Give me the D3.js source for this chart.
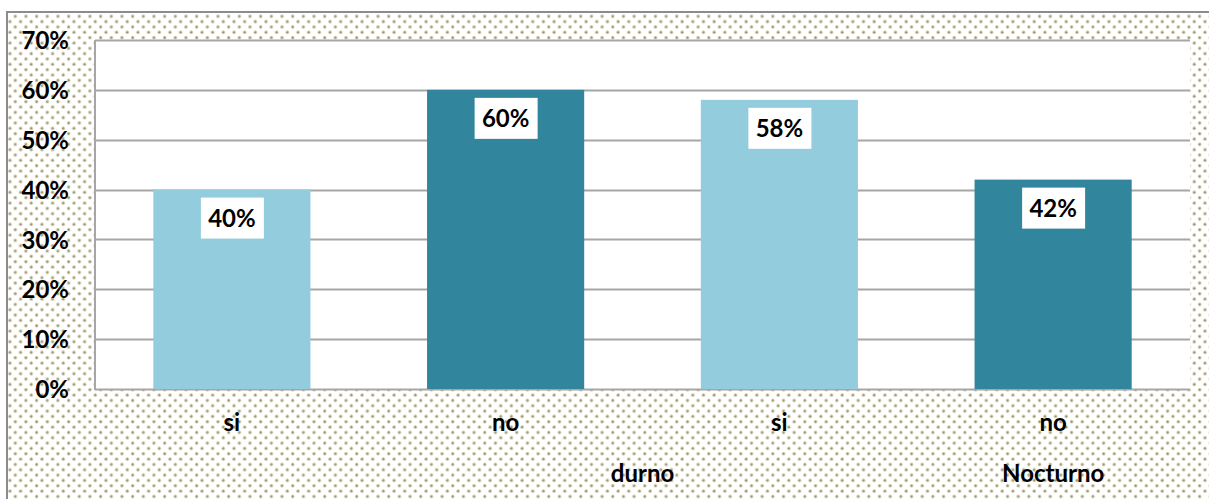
<!DOCTYPE html>
<html>
<head>
<meta charset="utf-8">
<script src="https://cdn.jsdelivr.net/npm/d3@7"></script>
<style>
  html, body { margin: 0; padding: 0; background: #fff; }
  svg { display: block; }
  text { font-family: Lato, "Open Sans", sans-serif; font-weight: 700; fill: #000; }
</style>
</head>
<body>
<svg id="chart" width="1209" height="499"></svg>
<script>
// Bar categories (inner level), their group labels and shares
const categories = ["si", "no", "si ", "no "];
const values = [0.40, 0.60, 0.58, 0.42];
const barColors = ["#93CDDD", "#31859C", "#93CDDD", "#31859C"];
const groupLabels = ["durno", "Nocturno"];
const yTicks = [0, 0.1, 0.2, 0.3, 0.4, 0.5, 0.6, 0.7];

const W = 1209, H = 499;
const plot = { left: 95, right: 1190, top: 40, bottom: 389 };
const FS = "24px";

const svg = d3.select("#chart");

// Dotted fill for the chart area
const defs = svg.append("defs");
const pat = defs.append("pattern")
  .attr("id", "dots").attr("patternUnits", "userSpaceOnUse")
  .attr("x", 2).attr("y", 3)
  .attr("width", 10.67).attr("height", 10.67);
pat.append("rect").attr("width", 10.67).attr("height", 10.67).attr("fill", "#fff");
[[2.6, 2.6], [7.93, 7.93]].forEach(([cx, cy]) => {
  pat.append("circle").attr("cx", cx).attr("cy", cy).attr("r", 1.8).attr("fill", "#d2cdb2");
  pat.append("circle").attr("cx", cx).attr("cy", cy).attr("r", 1.0).attr("fill", "#958d62");
});

svg.append("rect").attr("x", 6).attr("y", 11).attr("width", W - 6).attr("height", H - 11)
  .attr("fill", "url(#dots)");
// chart frame (left and top edges)
svg.append("path").attr("d", `M7,${H} V12 H${W}`)
  .attr("fill", "none").attr("stroke", "#8c8c8c").attr("stroke-width", 2);

const x = d3.scaleBand().domain(categories).range([plot.left, plot.right]).paddingInner(0.426).paddingOuter(0.213);
const xOuter = d3.scaleBand().domain(categories).range([plot.left, plot.right]);
const y = d3.scaleLinear().domain([0, 0.7]).range([plot.bottom, plot.top]);

// plot area
svg.append("rect").attr("x", plot.left).attr("y", plot.top)
  .attr("width", plot.right - plot.left).attr("height", plot.bottom - plot.top)
  .attr("fill", "#fff");

// gridlines
svg.append("g").selectAll("line").data(yTicks).join("line")
  .attr("x1", plot.left).attr("x2", plot.right)
  .attr("y1", d => Math.round(y(d)) + 0.5).attr("y2", d => Math.round(y(d)) + 0.5)
  .attr("stroke", "#a6a6a6").attr("stroke-width", 2);

// y axis line
svg.append("line").attr("x1", plot.left).attr("x2", plot.left)
  .attr("y1", plot.top).attr("y2", plot.bottom + 1)
  .attr("stroke", "#a6a6a6").attr("stroke-width", 2);

// y tick labels
const yAxis = d3.axisLeft(y).tickValues(yTicks).tickFormat(d3.format(".0%")).tickSize(0).tickPadding(26);
const yg = svg.append("g").attr("transform", `translate(${plot.left},0)`).call(yAxis);
yg.select(".domain").remove();
yg.selectAll("text").style("font-size", FS).attr("dy", "0.36em").style("font-family", "Lato, sans-serif").style("font-weight", 700);

// bars
svg.append("g").selectAll("rect").data(values).join("rect")
  .attr("x", (d, i) => x(categories[i]))
  .attr("width", x.bandwidth())
  .attr("y", d => y(d))
  .attr("height", d => y(0) - y(d))
  .attr("fill", (d, i) => barColors[i]);

// value labels on white boxes
const fmt = d3.format(".0%");
const lab = svg.append("g").selectAll("g").data(values).join("g")
  .attr("transform", (d, i) => `translate(${x(categories[i]) + x.bandwidth() / 2},${y(d) + 8})`);
lab.append("rect").attr("x", -31).attr("y", 0).attr("width", 63).attr("height", 41).attr("fill", "#fff");
lab.append("text").attr("text-anchor", "middle").attr("y", 29).style("font-size", FS).text(d => fmt(d));

// category labels
const xAxis = d3.axisBottom(xOuter).tickSize(0).tickPadding(0).tickFormat(d => d.trim());
const xg = svg.append("g").attr("transform", `translate(0,431)`).call(xAxis);
xg.select(".domain").remove();
xg.selectAll("text").attr("dy", 0).attr("y", 0).style("font-size", FS).style("font-family", "Lato, sans-serif").style("font-weight", 700);

// group labels
const groupX = [xOuter(categories[1]) + xOuter.bandwidth(), xOuter(categories[3]) + xOuter.bandwidth() / 2];
svg.append("g").selectAll("text").data(groupLabels).join("text")
  .attr("x", (d, i) => groupX[i]).attr("y", 482)
  .attr("text-anchor", "middle").style("font-size", FS).text(d => d);
</script>
</body>
</html>
